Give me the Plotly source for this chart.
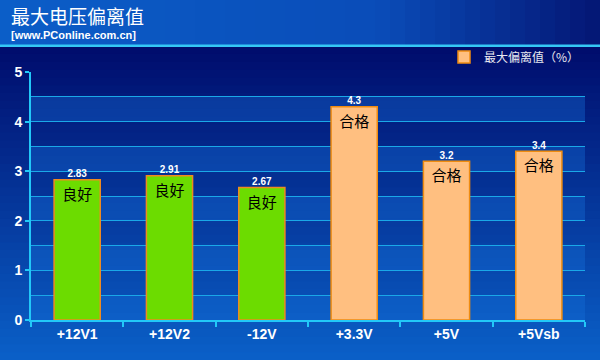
import plotly.graph_objects as go

categories = ["+12V1", "+12V2", "-12V", "+3.3V", "+5V", "+5Vsb"]
values = [2.83, 2.91, 2.67, 4.3, 3.2, 3.4]
ratings = ["良好", "良好", "良好", "合格", "合格", "合格"]
value_labels = ["2.83", "2.91", "2.67", "4.3", "3.2", "3.4"]
series_name = "最大偏离值（%）"
title_text = "最大电压偏离值"
subtitle_text = "[www.PConline.com.cn]"

W, H = 600, 360
L, R, T, B = 31, 15, 72, 40
PW, PH = W - L - R, H - T - B


def px_x(px):
    return (px - L) / PW


def px_y(py):
    return (H - B - py) / PH


def lerp(c1, c2, t):
    return "rgb(%d,%d,%d)" % tuple(round(a + (b - a) * t) for a, b in zip(c1, c2))


shapes = []
# main vertical gradient background
top_c, bot_c = (0, 12, 108), (10, 96, 200)
n = 40
y0, y1 = 46, 360
for i in range(n):
    a = y0 + (y1 - y0) * i / n
    b = y0 + (y1 - y0) * (i + 1) / n + 1
    shapes.append(dict(type="rect", xref="paper", yref="paper", layer="below",
                       x0=px_x(0), x1=px_x(W), y0=px_y(b), y1=px_y(a),
                       line=dict(width=0), fillcolor=lerp(top_c, bot_c, (i + 0.5) / n)))
# header horizontal gradient
stops = [(0, (11, 94, 200)), (380, (10, 76, 184)), (600, (4, 22, 116))]
m = 40
for i in range(m):
    xa = W * i / m
    xb = W * (i + 1) / m + 1
    xc = (xa + xb) / 2
    for j in range(len(stops) - 1):
        if stops[j][0] <= xc <= stops[j + 1][0]:
            t = (xc - stops[j][0]) / (stops[j + 1][0] - stops[j][0])
            col = lerp(stops[j][1], stops[j + 1][1], t)
    shapes.append(dict(type="rect", xref="paper", yref="paper", layer="below",
                       x0=px_x(xa), x1=px_x(xb), y0=px_y(45), y1=px_y(0),
                       line=dict(width=0), fillcolor=col))
# cyan separator
shapes.append(dict(type="rect", xref="paper", yref="paper", layer="below",
                   x0=px_x(0), x1=px_x(W), y0=px_y(47), y1=px_y(44.5),
                   line=dict(width=0), fillcolor="#35c8f5"))
# alternating lighter bands in plot area
for k in range(5):
    shapes.append(dict(type="rect", xref="paper", yref="y", layer="below",
                       x0=0, x1=1, y0=k, y1=k + 0.5,
                       line=dict(width=0), fillcolor="rgba(20,110,215,0.38)"))

green_idx = [i for i, r in enumerate(ratings) if r == "良好"]
orange_idx = [i for i, r in enumerate(ratings) if r == "合格"]

fig = go.Figure()
fig.add_trace(go.Bar(
    x=[categories[i] for i in green_idx], y=[values[i] for i in green_idx],
    text=[ratings[i] for i in green_idx], textposition="inside", insidetextanchor="end",
    textfont=dict(color="black", size=15, family="Noto Sans CJK SC"),
    marker=dict(color="#6cdc00", line=dict(color="#f08a20", width=1.5)),
    width=0.5, showlegend=False, name="良好"))
fig.add_trace(go.Bar(
    x=[categories[i] for i in orange_idx], y=[values[i] for i in orange_idx],
    text=[ratings[i] for i in orange_idx], textposition="inside", insidetextanchor="end",
    textfont=dict(color="black", size=15, family="Noto Sans CJK SC"),
    marker=dict(color="#ffbf80", line=dict(color="#f08c10", width=1.5)),
    width=0.5, showlegend=True, name=series_name))
fig.add_trace(go.Scatter(
    x=categories, y=values, text=value_labels, mode="text", textposition="top center",
    textfont=dict(color="white", size=10, family="Arial", weight="bold"),
    showlegend=False, hoverinfo="skip", cliponaxis=False))

fig.update_layout(
    width=W, height=H, margin=dict(l=L, r=R, t=T, b=B),
    paper_bgcolor="#000c6c", plot_bgcolor="rgba(0,0,0,0)",
    barmode="overlay", shapes=shapes, uniformtext=dict(mode=False),
    legend=dict(x=1.0, y=1.06, xanchor="right", yanchor="middle", orientation="h",
                bgcolor="rgba(0,0,0,0)",
                font=dict(color="#e8e8f0", size=12, family="Noto Sans CJK SC")),
    annotations=[
        dict(text=title_text, x=px_x(9), y=px_y(16), xref="paper", yref="paper",
             xanchor="left", yanchor="middle", showarrow=False,
             font=dict(color="white", size=19, family="Noto Sans CJK SC")),
        dict(text=subtitle_text, x=px_x(9), y=px_y(35), xref="paper", yref="paper",
             xanchor="left", yanchor="middle", showarrow=False,
             font=dict(color="white", size=11, family="Arial", weight="bold")),
    ],
)
fig.update_xaxes(
    range=[-0.5, 5.5], showline=True, linecolor="#22c8f8", linewidth=2,
    ticks="outside", tickson="boundaries", ticklen=5, tickcolor="#22c8f8", tickwidth=2,
    tickfont=dict(color="white", size=14, family="Arial", weight="bold"),
    showgrid=False, zeroline=False)
fig.update_yaxes(
    range=[0, 5], tickvals=[0, 1, 2, 3, 4, 5], showline=True, linecolor="#22c8f8", linewidth=2,
    ticks="outside", ticklen=4, tickcolor="#22c8f8", tickwidth=2,
    tickfont=dict(color="white", size=14, family="Arial", weight="bold"),
    showgrid=True, gridcolor="#1aa8e8", gridwidth=1, zeroline=False,
    minor=dict(dtick=0.5, showgrid=True, gridcolor="#1aa8e8", gridwidth=1, ticks=""))

fig.write_html("out.html", config={"displayModeBar": False},
               post_script="document.body.style.margin='0';")
